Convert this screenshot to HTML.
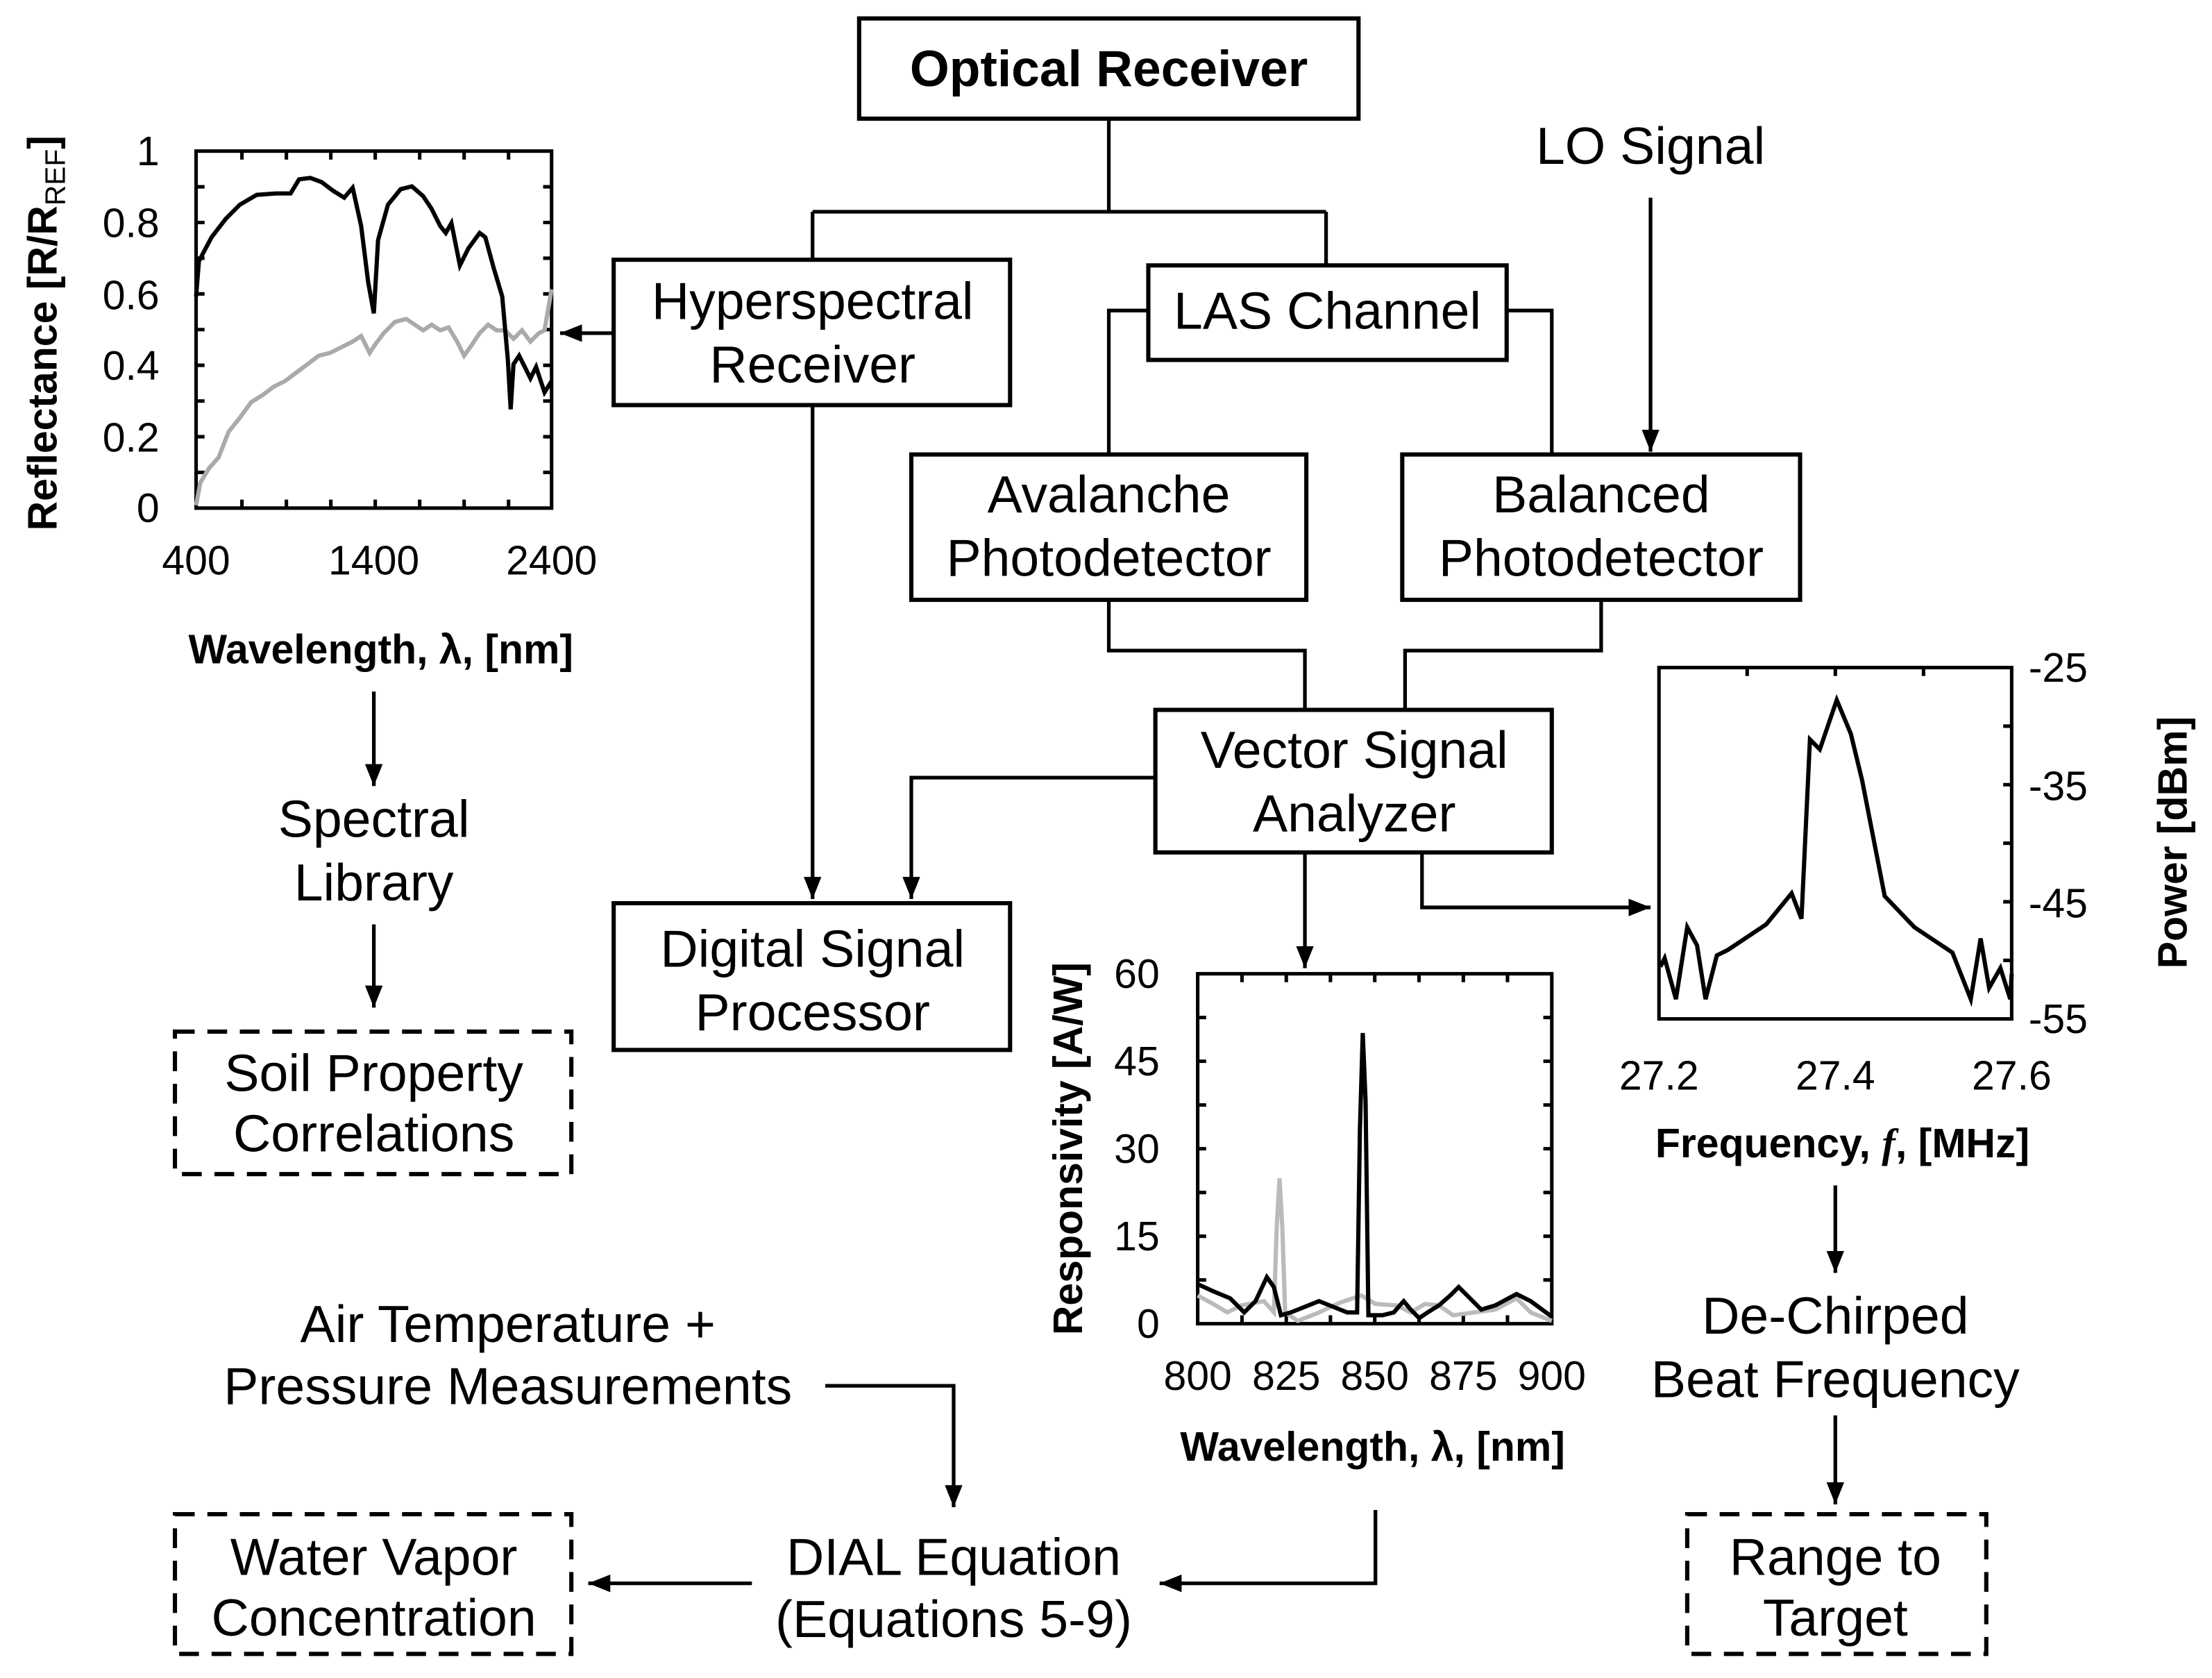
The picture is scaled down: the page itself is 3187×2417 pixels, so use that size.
<!DOCTYPE html>
<html><head><meta charset="utf-8"><style>
html,body{margin:0;padding:0;background:#fff}
svg{display:block}
text{font-family:"Liberation Sans",Arial,sans-serif;fill:#000}
.b{font-size:37px;text-anchor:middle}
.t{font-size:29px}
.at{font-size:29px;font-weight:bold}
</style></head><body>
<svg width="3187" height="2417" viewBox="0 0 1568 1189" xmlns="http://www.w3.org/2000/svg">
<defs>
<marker id="ah" viewBox="0 0 10 10" refX="10" refY="5" markerWidth="6" markerHeight="6" markerUnits="strokeWidth" orient="auto">
<path d="M0,1 L10,5 L0,9 z" fill="#000"/></marker>
</defs>
<g fill="none" stroke="#000" stroke-width="3">
<rect x="609" y="13" width="354" height="71"/>
<rect x="435" y="184" width="281" height="103"/>
<rect x="814" y="188" width="254" height="67"/>
<rect x="646" y="322" width="280" height="103"/>
<rect x="994" y="322" width="282" height="103"/>
<rect x="819" y="503" width="281" height="101"/>
<rect x="435" y="640" width="281" height="104"/>
<g stroke-dasharray="14,9">
<rect x="124" y="731" width="281" height="101"/>
<rect x="124" y="1073" width="281" height="99"/>
<rect x="1196" y="1073" width="212" height="99"/>
</g>
</g>
<g fill="none" stroke="#000" stroke-width="2.6">
<path d="M786,84 V150 M576,150 H940 M576,150 V184 M940,150 V188"/>
<path d="M814,220 H786 V322 M1068,220 H1100 V322"/>
<path d="M786,425 V461 H925 V503 M1135,425 V461 H996 V503"/>
<path d="M435,236 H397" marker-end="url(#ah)"/>
<path d="M1170,140 V320" marker-end="url(#ah)"/>
<path d="M819,551 H646 V637" marker-end="url(#ah)"/>
<path d="M576,287 V637" marker-end="url(#ah)"/>
<path d="M925,604 V686" marker-end="url(#ah)"/>
<path d="M1008,604 V643 H1170" marker-end="url(#ah)"/>
<path d="M265,490 V557" marker-end="url(#ah)"/>
<path d="M265,655 V714" marker-end="url(#ah)"/>
<path d="M1301,840 V902" marker-end="url(#ah)"/>
<path d="M1301,1003 V1066" marker-end="url(#ah)"/>
<path d="M585,982 H676 V1068" marker-end="url(#ah)"/>
<path d="M975,1070 V1122 H822" marker-end="url(#ah)"/>
<path d="M533,1122 H417" marker-end="url(#ah)"/>
</g>
<text x="786" y="61" class="b" font-weight="bold" style="font-size:36px">Optical Receiver</text>
<text x="576" y="226" class="b">Hyperspectral</text>
<text x="576" y="271" class="b">Receiver</text>
<text x="941" y="233" class="b">LAS Channel</text>
<text x="786" y="363" class="b">Avalanche</text>
<text x="786" y="408" class="b">Photodetector</text>
<text x="1135" y="363" class="b">Balanced</text>
<text x="1135" y="408" class="b">Photodetector</text>
<text x="960" y="544" class="b">Vector Signal</text>
<text x="960" y="589" class="b">Analyzer</text>
<text x="576" y="685" class="b">Digital Signal</text>
<text x="576" y="730" class="b">Processor</text>
<text x="265" y="773" class="b">Soil Property</text>
<text x="265" y="816" class="b">Correlations</text>
<text x="1170" y="116" class="b">LO Signal</text>
<text x="265" y="593" class="b">Spectral</text>
<text x="265" y="638" class="b">Library</text>
<text x="1301" y="945" class="b">De-Chirped</text>
<text x="1301" y="990" class="b">Beat Frequency</text>
<text x="1301" y="1116" class="b">Range to</text>
<text x="1301" y="1159" class="b">Target</text>
<text x="360" y="951" class="b">Air Temperature +</text>
<text x="360" y="995" class="b">Pressure Measurements</text>
<text x="676" y="1116" class="b">DIAL Equation</text>
<text x="676" y="1160" class="b">(Equations 5-9)</text>
<text x="265" y="1116" class="b">Water Vapor</text>
<text x="265" y="1159" class="b">Concentration</text>

<g stroke="#000" stroke-width="2.5" fill="none">
<rect x="139" y="107" width="252" height="253"/>
<path d="M171.5,360v-6M203,360v-6M234.5,360v-6M266,360v-6M297.5,360v-6M329,360v-6M360.5,360v-6M171.5,107v6M203,107v6M234.5,107v6M266,107v6M297.5,107v6M329,107v6M360.5,107v6"/>
<path d="M139,132.3h6M139,157.6h6M139,182.9h6M139,208.2h6M139,233.5h6M139,258.8h6M139,284.1h6M139,309.4h6M139,334.7h6M391,132.3h-6M391,157.6h-6M391,182.9h-6M391,208.2h-6M391,233.5h-6M391,258.8h-6M391,284.1h-6M391,309.4h-6M391,334.7h-6"/>
</g>
<polyline fill="none" stroke="#aaa" stroke-width="3" points="139,358 142,342 148,332 155,324 162,306 170,296 178,285 186,280 194,274 202,270 210,264 218,258 226,252 234,250 242,246 250,242 256,238 262,250 266,244 272,236 280,228 288,226 294,230 300,234 306,230 312,234 318,232 324,242 329,252 334,245 340,236 346,230 352,234 358,234 364,240 370,234 376,242 382,236 386,234 391,205"/>
<polyline fill="none" stroke="#000" stroke-width="3" points="139,210 141,185 150,168 160,155 170,145 182,138 196,137 206,137 212,127 220,126 228,129 236,135 244,140 250,133 256,160 261,200 265,222 268,170 275,145 284,134 292,132 300,139 306,148 312,160 316,165 320,158 326,188 332,176 340,165 344,168 350,190 356,210 360,255 362,290 364,258 368,252 372,260 376,268 380,260 386,278 391,270"/>
<g class="t" text-anchor="end">
<text x="113" y="117">1</text><text x="113" y="168">0.8</text><text x="113" y="219">0.6</text><text x="113" y="269">0.4</text><text x="113" y="320">0.2</text><text x="113" y="370">0</text>
</g>
<g class="t" text-anchor="middle">
<text x="139" y="407">400</text><text x="265" y="407">1400</text><text x="391" y="407">2400</text>
</g>
<text x="270" y="470" class="at" text-anchor="middle">Wavelength, λ, [nm]</text>
<text transform="translate(40,236) rotate(-90)" class="at" text-anchor="middle">Reflectance [R/R<tspan font-weight="normal" font-size="20" dy="6">REF</tspan><tspan dy="-6">]</tspan></text>

<g stroke="#000" stroke-width="2.5" fill="none">
<rect x="849" y="690" width="251" height="248"/>
<path d="M880.4,938v-6M911.8,938v-6M943.1,938v-6M974.5,938v-6M1005.9,938v-6M1037.3,938v-6M1068.6,938v-6M880.4,690v6M911.8,690v6M943.1,690v6M974.5,690v6M1005.9,690v6M1037.3,690v6M1068.6,690v6"/>
<path d="M849,721h6M849,752h6M849,783h6M849,814h6M849,845h6M849,876h6M849,907h6M1100,721h-6M1100,752h-6M1100,783h-6M1100,814h-6M1100,845h-6M1100,876h-6M1100,907h-6"/>
</g>
<polyline fill="none" stroke="#bbb" stroke-width="3" points="849,918 860,924 870,930 880,925 896,922 903,930 905,870 907,835 909,870 911,930 920,936 935,930 950,923 965,918 975,924 990,925 1000,930 1010,924 1020,925 1030,932 1045,930 1060,928 1075,920 1085,930 1100,936"/>
<polyline fill="none" stroke="#000" stroke-width="3" points="849,910 860,915 872,920 882,930 890,922 898,905 903,912 908,932 915,930 925,926 935,922 945,926 955,930 962,930 964,800 966,732 968,780 970,932 980,932 988,930 995,922 1000,928 1006,934 1012,930 1020,925 1028,918 1034,912 1040,918 1050,928 1060,925 1075,917 1085,922 1100,933"/>
<g class="t" text-anchor="end">
<text x="822" y="700">60</text><text x="822" y="762">45</text><text x="822" y="824">30</text><text x="822" y="886">15</text><text x="822" y="948">0</text>
</g>
<g class="t" text-anchor="middle">
<text x="849" y="985">800</text><text x="911.8" y="985">825</text><text x="974.5" y="985">850</text><text x="1037.3" y="985">875</text><text x="1100" y="985">900</text>
</g>
<text x="973" y="1035" class="at" text-anchor="middle">Wavelength, λ, [nm]</text>
<text transform="translate(767,814) rotate(-90)" class="at" text-anchor="middle">Responsivity [A/W]</text>

<g stroke="#000" stroke-width="2.5" fill="none">
<rect x="1176" y="473" width="250" height="249"/>
<path d="M1238.5,473v6M1301,473v6M1363.5,473v6"/>
<path d="M1426,514.5h-6M1426,556h-6M1426,597.5h-6M1426,639h-6M1426,680.5h-6"/>
</g>
<polyline fill="none" stroke="#000" stroke-width="3" points="1177,685 1180,679 1188,708 1196,657 1203,670 1209,708 1217,677 1225,673 1252,655 1270,633 1277,651 1283,524 1290,531 1302,496 1312,520 1320,553 1336,635 1357,657 1384,675 1397,708 1404,665 1410,700 1418,686 1425,708 1426,690"/>
<g class="t" text-anchor="start">
<text x="1438" y="483">-25</text><text x="1438" y="567">-35</text><text x="1438" y="650">-45</text><text x="1438" y="732">-55</text>
</g>
<g class="t" text-anchor="middle">
<text x="1176" y="772">27.2</text><text x="1301" y="772">27.4</text><text x="1426" y="772">27.6</text>
</g>
<text x="1306" y="820" class="at" text-anchor="middle">Frequency, <tspan font-family="Liberation Serif" font-style="italic">f</tspan>, [MHz]</text>
<text transform="translate(1550,597) rotate(-90)" class="at" text-anchor="middle">Power [dBm]</text>
</svg>
</body></html>
